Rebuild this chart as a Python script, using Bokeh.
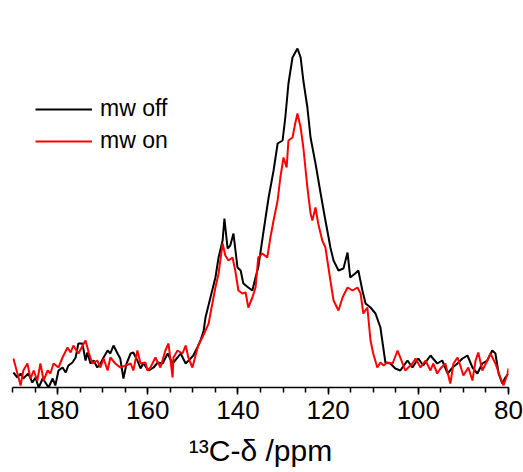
from bokeh.plotting import figure
from bokeh.models import Range1d, Legend, LegendItem, FixedTicker
from bokeh.embed import file_html
from bokeh.resources import INLINE

# chemical shift (ppm) and intensity (arb. units)
ppm_off = [189.8, 188.9, 188.2, 187.6, 186.5, 185.6, 184.9, 184.2, 183.3, 182.7, 182.0, 181.1, 180.5,
           179.8, 178.9, 178.2, 177.6, 176.7, 176.0, 175.4, 174.5, 173.8, 173.4, 172.7, 172.0, 171.2,
           170.5, 169.8, 168.9, 168.3, 167.6, 166.7, 166.1, 165.4, 164.7, 163.8, 163.2, 162.3, 161.6,
           161.0, 159.8, 158.7, 157.8, 156.7, 155.6, 154.5, 153.4, 152.7, 151.6, 150.5, 149.9, 149.0,
           148.3, 147.6, 147.2, 146.1, 145.0, 144.3, 143.4, 143.0, 142.3, 141.7, 141.0, 140.1, 139.4,
           138.8, 137.7, 136.8, 136.1, 135.5, 134.3, 133.2, 132.1, 131.2, 130.1, 129.5, 128.8, 127.9,
           126.8, 126.1, 125.5, 124.6, 123.9, 122.8, 121.7, 121.0, 120.6, 119.9, 119.5, 118.8, 117.7,
           116.6, 115.7, 115.1, 114.0, 113.3, 112.4, 111.7, 110.6, 109.5, 108.4, 108.0, 107.3, 106.2,
           105.1, 104.0, 102.4, 101.3, 100.0, 98.9, 97.3, 95.8, 94.7, 93.5, 92.4, 91.3, 90.2, 89.1,
           88.0, 86.9, 85.8, 84.7, 83.6, 82.9, 82.2, 81.4, 80.7, 80.0]
int_off = [15, 10, 14, 9, 14, 5, 10, 0, 9, 5, 0, 9, 2,
           17, 20, 15, 22, 25, 30, 44, 44, 27, 35, 24, 27, 20,
           24, 30, 37, 34, 42, 34, 29, 9, 24, 34, 35, 27, 19,
           24, 17, 20, 25, 24, 34, 24, 30, 34, 24, 29, 32, 40,
           47, 57, 70, 90, 110, 130, 147, 169, 139, 142, 154, 120, 117,
           104, 100, 97, 110, 120, 157, 190, 217, 244, 247, 270, 304, 330,
           339, 330, 307, 280, 250, 224, 195, 177, 167, 150, 140, 127, 117,
           119, 135, 110, 114, 117, 97, 84, 80, 74, 60, 47, 25, 24,
           19, 17, 27, 20, 29, 22, 32, 24, 27, 14, 20, 24, 29, 32,
           20, 14, 24, 27, 37, 34, 14, 4, 10, 14]

ppm_on = [189.8, 188.9, 188.2, 187.6, 186.7, 186.0, 185.3, 184.5, 183.8, 183.1, 182.2, 181.6, 180.9,
          179.8, 178.9, 177.8, 177.1, 176.5, 175.4, 173.8, 173.1, 172.3, 171.2, 170.5, 169.8, 168.9,
          168.3, 167.2, 166.1, 164.9, 163.8, 163.2, 162.3, 161.6, 160.5, 160.1, 159.4, 158.3, 157.2,
          156.1, 155.4, 154.5, 154.3, 153.4, 152.3, 151.6, 151.0, 150.1, 149.4, 148.8, 147.9, 147.2,
          146.5, 146.1, 145.0, 144.3, 143.4, 142.8, 142.1, 141.2, 140.6, 139.9, 139.0, 138.3, 137.7,
          136.8, 136.1, 135.5, 134.6, 133.5, 132.8, 132.1, 131.2, 130.6, 129.9, 129.2, 128.8, 127.9,
          127.3, 126.8, 126.1, 125.5, 124.6, 123.9, 123.5, 122.8, 122.2, 121.3, 120.6, 119.5, 118.8,
          117.7, 116.8, 115.7, 114.6, 113.5, 112.8, 112.2, 111.3, 110.6, 110.0, 109.1, 108.4, 107.7,
          106.9, 105.7, 104.6, 104.0, 102.9, 101.3, 100.6, 99.5, 98.4, 97.3, 96.7, 95.8, 95.1, 94.0,
          92.9, 92.2, 91.3, 90.7, 90.0, 88.9, 88.0, 87.3, 86.7, 85.8, 84.7, 84.0, 82.9, 81.8, 81.1,
          80.2, 80.0]
int_on = [29, 14, 2, 17, 24, 9, 17, 7, 24, 7, 17, 14, 24,
          20, 30, 40, 35, 42, 34, 47, 35, 24, 27, 20, 29, 17,
          30, 24, 20, 22, 24, 17, 37, 24, 25, 17, 20, 30, 20,
          37, 44, 10, 30, 37, 34, 42, 30, 20, 32, 42, 50, 57,
          64, 74, 100, 114, 144, 132, 127, 130, 117, 97, 94, 95, 80,
          90, 100, 130, 134, 130, 150, 167, 187, 210, 230, 220, 247, 250,
          264, 274, 260, 240, 200, 174, 167, 180, 164, 147, 140, 107, 87,
          77, 90, 100, 97, 100, 94, 74, 80, 47, 34, 20, 25, 22,
          25, 24, 37, 30, 17, 24, 29, 20, 27, 17, 24, 14, 19, 24,
          4, 24, 30, 22, 12, 20, 7, 27, 35, 17, 27, 34, 24, 10, 2,
          14, 19]

series_labels = ["mw off", "mw on"]
x_label = "¹³C-δ /ppm"
major_ticks = [180, 160, 140, 120, 100, 80]
minor_ticks = [80, 85, 90, 95, 100, 105, 110, 115, 120, 125, 130, 135, 140, 145, 150,
               155, 160, 165, 170, 175, 180, 185, 190]

p = figure(width=523, height=472, output_backend="svg", toolbar_location=None,
           x_range=Range1d(190, 80), y_range=Range1d(0, 387),
           y_axis_location=None,
           min_border_left=12, min_border_right=15, min_border_top=0, min_border_bottom=85)
p.outline_line_color = None
p.xgrid.visible = False
p.ygrid.visible = False
p.background_fill_color = "white"
p.border_fill_color = "white"

r_off = p.line(ppm_off, int_off, line_color="black", line_width=2)
r_on = p.line(ppm_on, int_on, line_color="#ff0000", line_width=2)

ax = p.xaxis[0]
ax.ticker = FixedTicker(ticks=major_ticks, minor_ticks=minor_ticks)
ax.axis_line_color = "black"
ax.axis_line_width = 1.5
ax.major_tick_line_color = "black"
ax.major_tick_line_width = 1.5
ax.minor_tick_line_color = "black"
ax.minor_tick_line_width = 1.5
ax.major_tick_out = 7
ax.major_tick_in = 0
ax.minor_tick_out = 5
ax.minor_tick_in = 0
ax.major_label_text_font = "Liberation Sans"
ax.major_label_text_font_size = "26px"
ax.major_label_text_color = "black"
ax.major_label_standoff = 6
ax.axis_label = x_label
ax.axis_label_text_font = "Liberation Sans"
ax.axis_label_text_font_size = "30px"
ax.axis_label_text_font_style = "normal"
ax.axis_label_text_color = "black"
ax.axis_label_standoff = 12

legend = Legend(items=[LegendItem(label=series_labels[0], renderers=[r_off]),
                       LegendItem(label=series_labels[1], renderers=[r_on])],
                location=(23, 233), padding=0, margin=0,
                border_line_color=None, background_fill_alpha=0,
                glyph_width=57, glyph_height=26, label_height=26, spacing=5,
                label_standoff=8, label_text_font="Liberation Sans",
                label_text_font_size="23px", label_text_color="black")
p.add_layout(legend)

open("out.html", "w").write(file_html(p, INLINE))
